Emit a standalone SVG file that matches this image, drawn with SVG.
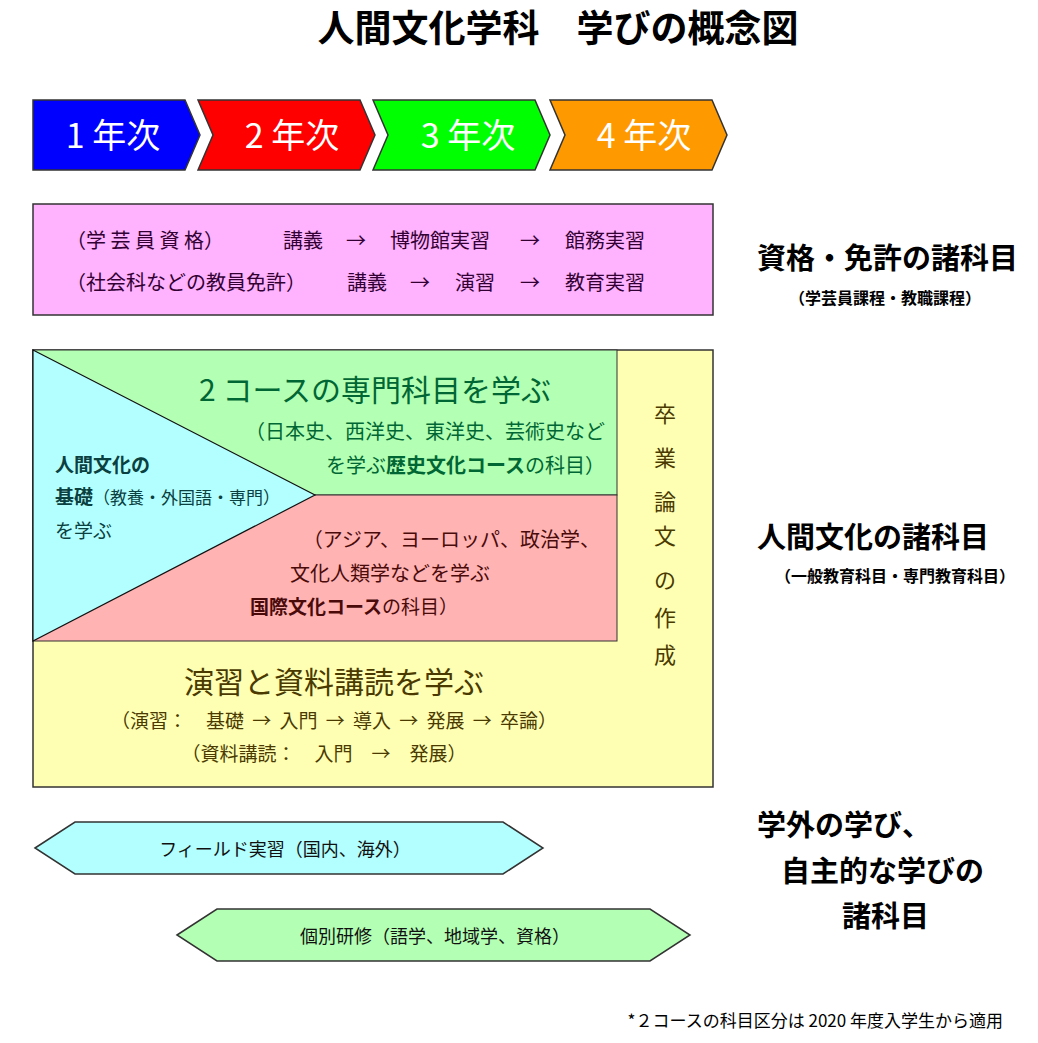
<svg xmlns="http://www.w3.org/2000/svg" width="1038" height="1043" viewBox="0 0 1038 1043">
<style>
text{font-family:"Noto Sans CJK JP","Liberation Sans",sans-serif}
.sh{stroke:#333;stroke-width:1.5}
.yr{fill:#fff;font-size:34px;text-anchor:middle}
.g{fill:#063;}
.t{fill:#0a4040}
.p{fill:#4a0a0a}
.y{fill:#4a3a00}
.m{fill:#330033;font-size:20px}
.r{fill:#000;font-size:29px;font-weight:bold}
.rs{fill:#000;font-size:16px;font-weight:bold;text-anchor:middle}
</style>
<rect width="1038" height="1043" fill="#fff"/>
<text x="558" y="42" text-anchor="middle" font-size="37" font-weight="bold" fill="#000">人間文化学科　学びの概念図</text>
<g id="year1"><polygon class="sh" fill="#0000ff" points="33,100 185,100 200,135 185,170 33,170"/><text class="yr" x="113" y="148">1 年次</text></g>
<g id="year2"><polygon class="sh" fill="#ff0000" points="198,100 360,100 375,135 360,170 198,170 213,135"/><text class="yr" x="292" y="148">2 年次</text></g>
<g id="year3"><polygon class="sh" fill="#00ff00" points="373,100 535,100 550,135 535,170 373,170 388,135"/><text class="yr" x="468" y="148">3 年次</text></g>
<g id="year4"><polygon class="sh" fill="#ff9900" points="550,100 712,100 727,135 712,170 550,170 565,135"/><text class="yr" x="644" y="148">4 年次</text></g>
<g id="license">
<rect class="sh" x="33" y="204" width="680" height="111" fill="#ffb3ff"/>
<text class="m" x="66" y="248">（学 芸 員 資 格）</text>
<text class="m" x="283" y="248">講義</text><text class="m" x="346" y="248">→</text><text class="m" x="390" y="248">博物館実習</text><text class="m" x="520" y="248">→</text><text class="m" x="565" y="248">館務実習</text>
<text class="m" x="66" y="290">（社会科などの教員免許）</text>
<text class="m" x="347" y="290">講義</text><text class="m" x="410" y="290">→</text><text class="m" x="455" y="290">演習</text><text class="m" x="520" y="290">→</text><text class="m" x="565" y="290">教育実習</text>
</g>
<g id="main">
<rect class="sh" x="33" y="350" width="680" height="437" fill="#ffffb3"/>
<rect x="33" y="350" width="584" height="145" fill="#b3ffb3" stroke="#333" stroke-width="1"/>
<rect x="33" y="495" width="584" height="146" fill="#ffb3b3" stroke="#333" stroke-width="1"/>
<polygon points="33,350 315,495 33,641" fill="#b3ffff" stroke="#111" stroke-width="1.2"/>
<text class="g" x="375" y="401" font-size="30" text-anchor="middle">2 コースの専門科目を学ぶ</text>
<text class="g" x="605" y="439" font-size="20" text-anchor="end">（日本史、西洋史、東洋史、芸術史など</text>
<text class="g" x="605" y="473" font-size="20" text-anchor="end">を学ぶ<tspan font-weight="bold">歴史文化コース</tspan>の科目）</text>
<text class="t" x="55" y="472" font-size="19" font-weight="bold">人間文化の</text>
<text class="t" x="55" y="504" font-size="19"><tspan font-weight="bold">基礎</tspan><tspan font-size="17">（教養・外国語・専門）</tspan></text>
<text class="t" x="55" y="538" font-size="19">を学ぶ</text>
<text class="p" x="600" y="547" font-size="20" text-anchor="end">（アジア、ヨーロッパ、政治学、</text>
<text class="p" x="390" y="581" font-size="20" text-anchor="middle">文化人類学などを学ぶ</text>
<text class="p" x="250" y="614" font-size="19"><tspan font-weight="bold">国際文化コース</tspan>の科目）</text>
<text class="y" x="334" y="693" font-size="30" text-anchor="middle">演習と資料講読を学ぶ</text>
<text class="y" x="334" y="728" font-size="19" text-anchor="middle" word-spacing="4">（演習：　基礎 → 入門 → 導入 → 発展 → 卒論）</text>
<text class="y" x="324" y="761" font-size="19" text-anchor="middle">（資料講読：　入門　→　発展）</text>
<g class="y" font-size="22" text-anchor="middle">
<text x="665" y="422">卒</text><text x="665" y="466">業</text><text x="665" y="510">論</text><text x="665" y="544">文</text><text x="665" y="588">の</text><text x="665" y="626">作</text><text x="665" y="663">成</text>
</g>
</g>
<g id="field"><polygon class="sh" fill="#b3ffff" points="35,848 75,822 503,822 543,848 503,874 75,874"/><text x="285" y="856" font-size="18" text-anchor="middle" fill="#111">フィールド実習（国内、海外）</text></g>
<g id="self"><polygon class="sh" fill="#b3ffb3" points="177,935 217,909 650,909 690,935 650,961 217,961"/><text x="435" y="943" font-size="18" text-anchor="middle" fill="#111">個別研修（語学、地域学、資格）</text></g>
<g id="labels">
<text class="r" x="757" y="269">資格・免許の諸科目</text>
<text class="rs" x="885" y="304">（学芸員課程・教職課程）</text>
<text class="r" x="757" y="548">人間文化の諸科目</text>
<text class="rs" x="895" y="582">（一般教育科目・専門教育科目）</text>
<text class="r" x="757" y="836">学外の学び、</text>
<text class="r" x="781" y="882">自主的な学びの</text>
<text class="r" x="842" y="927">諸科目</text>
</g>
<text x="1003" y="1027" font-size="17" text-anchor="end" fill="#000" font-family="Liberation Serif,Noto Sans CJK JP,serif">*２コースの科目区分は 2020 年度入学生から適用</text>
</svg>
